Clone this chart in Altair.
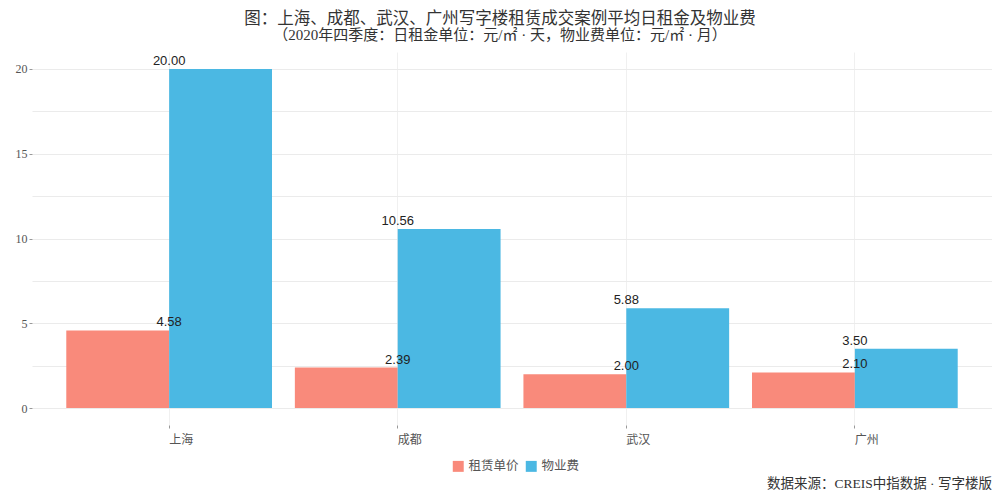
import altair as alt
import pandas as pd

cities = ["上海", "成都", "武汉", "广州"]
rent = [4.58, 2.39, 2.00, 2.10]
fee = [20.00, 10.56, 5.88, 3.50]
series = ["租赁单价", "物业费"]
colors = ["#F98A7B", "#4BB8E3"]
y_values = [0, 2.5, 5, 7.5, 10, 12.5, 15, 17.5, 20]

rows = []
for c, r, f in zip(cities, rent, fee):
    rows.append({"city": c, "series": series[0], "value": r, "label": f"{r:.2f}"})
    rows.append({"city": c, "series": series[1], "value": f, "label": f"{f:.2f}"})
df = pd.DataFrame(rows)

W, H = 960, 373
serif = "Liberation Serif, Noto Sans CJK SC"

x_enc = alt.X("city:N", sort=cities, title=None,
              scale=alt.Scale(paddingInner=0.1, paddingOuter=0.15),
              axis=alt.Axis(labelAlign="left", labelAngle=0, labelFont=serif, labelFontSize=12,
                            labelColor="#555555", tickColor="#999999", tickSize=3,
                            domain=False, grid=True, gridColor="#f0f0f0", labelPadding=6))
y_scale = alt.Scale(domain=[-1, 21], nice=False, zero=False)

bars = alt.Chart(df).mark_bar().encode(
    x=x_enc,
    xOffset=alt.XOffset("series:N", sort=series, scale=alt.Scale(paddingInner=0, paddingOuter=0)),
    y=alt.Y("value:Q", scale=y_scale, title=None,
            axis=alt.Axis(values=y_values,
                          labelExpr="datum.value % 5 === 0 ? datum.label : ''",
                          tickOpacity={"condition": {"test": "datum.value % 5 === 0", "value": 1}, "value": 0},
                          tickColor="#999999", tickSize=3, domain=False,
                          gridColor="#ebebeb", labelFont=serif, labelFontSize=12,
                          labelColor="#555555", labelPadding=2)),
    color=alt.Color("series:N", sort=series, scale=alt.Scale(domain=series, range=colors),
                    legend=alt.Legend(title=None, orient="none", direction="horizontal",
                                      legendX=420, legendY=408, symbolType="square",
                                      symbolSize=120, symbolStrokeWidth=0, symbolOpacity=1,
                                      labelFont=serif, labelFontSize=12.5, labelColor="#555555",
                                      columnPadding=6, labelOffset=4)),
)

labels = alt.Chart(df).mark_text(baseline="bottom", dy=-1, fontSize=13,
                                 font="Liberation Sans", color="#222222").encode(
    x=alt.X("city:N", sort=cities),
    y=alt.Y("value:Q", scale=y_scale),
    text="label:N",
)

source = alt.Chart(pd.DataFrame({"t": ["数据来源：CREIS中指数据 · 写字楼版"]})).mark_text(
    align="right", baseline="bottom", fontSize=13.5, font=serif, color="#333333"
).encode(x=alt.value(W), y=alt.value(H + 66), text="t:N")

chart = alt.layer(bars, labels, source).properties(
    width=W, height=H,
    autosize=alt.AutoSizeParams(type="none"),
    padding={"left": 24, "top": 44, "right": 0, "bottom": 67},
    title=alt.TitleParams(
        text="图：上海、成都、武汉、广州写字楼租赁成交案例平均日租金及物业费",
        subtitle="（2020年四季度：日租金单位：元/㎡ · 天，物业费单位：元/㎡ · 月）",
        anchor="middle", dx=-12, offset=9, fontSize=16.5, subtitleFontSize=15,
        font=serif, subtitleFont=serif, color="#333333", subtitleColor="#333333",
        fontWeight="normal", subtitlePadding=1,
    ),
).configure_view(stroke=None).configure_axis(gridWidth=1)

chart.save("out.html", embed_options={"renderer": "svg", "actions": False})
